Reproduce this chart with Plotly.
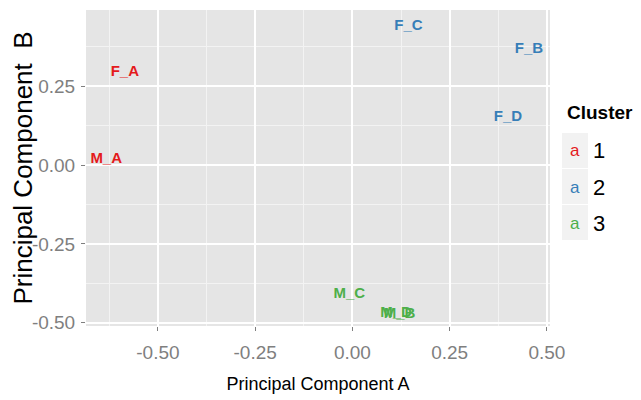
import plotly.graph_objects as go

# ---- data ----
labels = ["F_A", "M_A", "F_C", "F_B", "F_D", "M_C", "M_D", "M_B"]
comp_a = [-0.585, -0.633, 0.144, 0.454, 0.400, -0.008, 0.112, 0.121]
comp_b = [0.293, 0.019, 0.440, 0.366, 0.150, -0.408, -0.469, -0.473]
cluster = [1, 1, 2, 2, 2, 3, 3, 3]
cluster_ids = [1, 2, 3]
cluster_colors = {1: "#E41A1C", 2: "#377EB8", 3: "#4DAF4A"}
x_ticks = [-0.50, -0.25, 0.00, 0.25, 0.50]
y_ticks = [-0.50, -0.25, 0.00, 0.25]
x_minor = [-0.625, -0.375, -0.125, 0.125, 0.375]
y_minor = [-0.375, -0.125, 0.125, 0.375]

# page is 641x400, but the browser body has an 8px default margin
OFF = 8
W, H = 641 - OFF, 400 - OFF
L, R, T, B = 86 - OFF, 91, 10 - OFF, 74
pw, ph = W - L - R, H - T - B

def px(x):  # page pixel -> paper coords
    return (x - OFF - L) / pw

def py(y):
    return 1 - (y - OFF - T) / ph

FONT = "Liberation Sans, Arial, sans-serif"

fig = go.Figure()
for c in cluster_ids:
    idx = [i for i, k in enumerate(cluster) if k == c]
    fig.add_trace(go.Scatter(
        x=[comp_a[i] for i in idx],
        y=[comp_b[i] for i in idx],
        text=[labels[i] for i in idx],
        mode="text",
        textposition="middle center",
        textfont=dict(family=FONT, size=15, color=cluster_colors[c], weight="bold"),
        name=str(c),
        showlegend=False,
        hoverinfo="text",
    ))

axis_common = dict(
    showline=False, zeroline=False, automargin=False,
    showgrid=True, gridcolor="#FFFFFF", gridwidth=1.6,
    ticks="outside", ticklen=4, tickcolor="#7F7F7F", tickwidth=1,
    tickfont=dict(family=FONT, size=19, color="#7F7F7F"),
)

fig.update_xaxes(
    **axis_common,
    range=[-0.685, 0.508],
    tickvals=x_ticks,
    ticktext=[f"{v:.2f}" for v in x_ticks],
    minor=dict(tickvals=x_minor, showgrid=True, gridcolor="#F3F3F3", gridwidth=0.8, ticks=""),
    title=dict(text="Principal Component A", font=dict(family=FONT, size=18, color="#000000")),
    ticklabelstandoff=5,
)
fig.update_yaxes(
    **axis_common,
    range=[-0.51, 0.491],
    tickvals=y_ticks,
    ticktext=[f"{v:.2f}" for v in y_ticks],
    minor=dict(tickvals=y_minor, showgrid=True, gridcolor="#F3F3F3", gridwidth=0.8, ticks=""),
    title=dict(text="Principal Component\u00a0\u00a0B", font=dict(family=FONT, size=26, color="#000000")),
    ticklabelstandoff=2,
)

# ---- legend (ggplot style) ----
fig.add_annotation(x=px(600), y=py(113), xref="paper", yref="paper", text="<b>Cluster</b>",
                   showarrow=False, xanchor="center", yanchor="middle",
                   font=dict(family=FONT, size=19, color="#000000"))
box_top = 133
box_h = 36
for j, c in enumerate(cluster_ids):
    y0 = box_top + j * box_h
    fig.add_shape(type="rect", xref="paper", yref="paper",
                  x0=px(562), x1=px(588), y0=py(y0 + box_h - 1), y1=py(y0),
                  fillcolor="#F2F2F2", line=dict(width=0), layer="below")
    fig.add_annotation(x=px(575), y=py(y0 + box_h / 2), xref="paper", yref="paper", text="a",
                       showarrow=False, xanchor="center", yanchor="middle",
                       font=dict(family=FONT, size=17, color=cluster_colors[c]))
    fig.add_annotation(x=px(591), y=py(y0 + box_h / 2), xref="paper", yref="paper", text=str(c),
                       showarrow=False, xanchor="left", yanchor="middle",
                       font=dict(family=FONT, size=22, color="#000000"))

fig.update_layout(
    width=W, height=H,
    margin=dict(l=L, r=R, t=T, b=B, pad=0, autoexpand=False),
    plot_bgcolor="#E5E5E5",
    paper_bgcolor="#FFFFFF",
    showlegend=False,
)

fig.write_html("out.html")
